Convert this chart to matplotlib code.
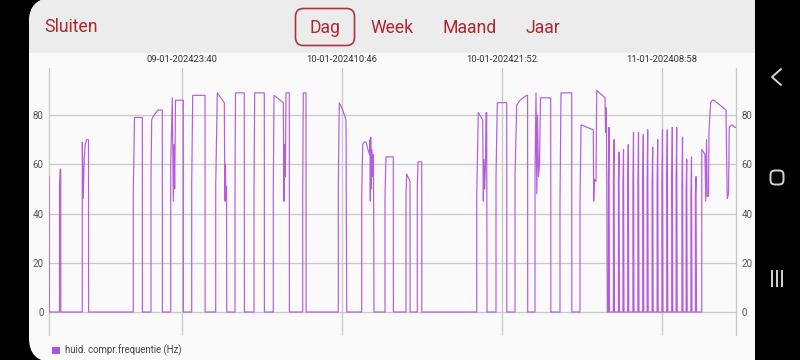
import matplotlib
matplotlib.use("Agg")
import matplotlib.pyplot as plt
from matplotlib.patches import FancyBboxPatch, Rectangle, Patch
import pandas as pd

# ---------------- data ----------------
window_start = pd.Timestamp("2024-01-09 14:26")
window_minutes = 2859.6
tick_times = ["2024-01-09 23:40", "2024-01-10 10:46", "2024-01-10 21:52", "2024-01-11 08:58"]
y_ticks = [0, 20, 40, 60, 80]
series_label = "huid. compr.frequentie (Hz)"
menu_items = ["Dag", "Week", "Maand", "Jaar"]

# minutes since window start
times_min = [
    0, 1.2,
    43.7, 43.7, 46.6, 48.7, 49.1,
    138.6, 138.6, 142.4, 146.5, 150.7, 156.9, 164.4, 164.8,
    350.9, 350.9, 353.8, 355.9, 388.4, 388.8,
    424.6, 424.6, 427.5, 430.8, 445.4, 453.7, 471.6, 472.0,
    506.6, 506.6, 513.2, 517.4, 520.3, 523.2, 526.6, 559.0, 559.4,
    594.0, 594.0, 598.2, 649.4, 649.8,
    693.9, 693.9, 700.5, 729.7, 730.9, 732.6, 734.3, 735.9, 739.3, 739.7,
    774.2, 774.2, 776.3, 812.9, 813.4,
    853.3, 853.3, 856.2, 896.2, 896.6,
    933.6, 933.6, 936.6, 975.3, 976.9, 978.2, 980.3, 982.4, 984.4, 986.5, 1000.2, 1000.7,
    1056.0, 1056.0, 1058.5, 1069.8, 1070.2,
    1204.2, 1204.2, 1208.4, 1222.5, 1236.3, 1239.2,
    1301.6, 1301.6, 1305.8, 1311.2, 1319.5, 1327.8, 1334.1, 1336.2, 1337.4, 1339.1,
    1341.2, 1343.2, 1345.7, 1348.6, 1350.7, 1352.8,
    1398.6, 1398.6, 1402.8, 1433.2, 1433.6,
    1486.0, 1486.0, 1488.9, 1502.7, 1503.1,
    1533.0, 1533.0, 1536.0, 1551.4, 1551.8,
    1780.3, 1780.3, 1786.9, 1805.3, 1807.8, 1810.7, 1813.6, 1816.9, 1819.0, 1821.9, 1823.2,
    1860.6, 1860.6, 1866.1, 1905.2, 1905.6,
    1939.7, 1939.7, 1946.8, 1960.5, 1988.4, 1992.2, 1992.6,
    2023.0, 2023.0, 2027.1, 2030.5, 2033.4, 2037.6, 2041.7, 2045.9, 2088.3, 2088.7,
    2127.0, 2127.0, 2131.2, 2175.7, 2176.2,
    2210.3, 2210.3, 2214.5, 2265.6, 2267.3, 2269.8, 2276.9, 2279.8, 2314.4, 2316.5,
    2318.5, 2320.6, 2324.0,
    2328.5, 2328.5, 2331.0, 2333.0,
    2349.3, 2349.3, 2351.8, 2353.8,
    2370.1, 2370.1, 2372.6, 2374.6,
    2388.9, 2388.9, 2391.4, 2393.4,
    2408.8, 2408.8, 2411.3, 2413.3,
    2430.5, 2430.5, 2433.0, 2435.0,
    2451.3, 2451.3, 2453.8, 2455.8,
    2471.3, 2471.3, 2473.8, 2475.8,
    2489.6, 2489.6, 2492.1, 2494.1,
    2510.4, 2510.4, 2512.9, 2514.9,
    2531.2, 2531.2, 2533.7, 2535.7,
    2551.2, 2551.2, 2553.7, 2555.7,
    2571.2, 2571.2, 2573.7, 2575.7,
    2592.0, 2592.0, 2594.5, 2596.5,
    2610.3, 2610.3, 2612.8, 2614.8,
    2634.5, 2634.5, 2637.0, 2639.0,
    2651.9, 2651.9, 2654.4, 2656.4,
    2671.9, 2671.9, 2674.4, 2676.4,
    2690.6, 2690.6, 2693.1, 2695.1,
    2717.1, 2717.1, 2730.6, 2733.6, 2736.9, 2739.8, 2745.2, 2747.3, 2754.3, 2761.0,
    2768.1, 2818.0, 2820.1, 2823.4, 2828.4, 2831.7, 2841.7, 2855.5, 2859.6,
]

freq_hz = [
    55, 0,
    0, 51, 58, 58, 0,
    0, 69, 46, 62, 68, 70, 70, 0,
    0, 50, 65, 79, 79, 0,
    0, 55, 78, 79, 81, 82, 82, 0,
    0, 60, 87, 45, 68, 50, 86, 86, 0,
    0, 52, 88, 88, 0,
    0, 51, 89, 85, 65, 45, 60, 51, 51, 0,
    0, 50, 89, 89, 0,
    0, 50, 89, 89, 0,
    0, 50, 88, 85, 65, 45, 68, 55, 60, 89, 89, 0,
    0, 50, 89, 89, 0,
    0, 52, 85, 82, 78, 0,
    0, 47, 68, 69, 69, 66, 64, 70, 45, 71,
    50, 66, 55, 64, 60, 0,
    0, 47, 63, 63, 0,
    0, 48, 56, 53, 0,
    0, 50, 61, 61, 0,
    0, 47, 81, 78, 45, 62, 50, 60, 81, 81, 0,
    0, 55, 85, 85, 0,
    0, 55, 84, 86, 88, 88, 0,
    0, 55, 89, 48, 80, 55, 60, 87, 87, 0,
    0, 45, 89, 89, 0,
    0, 45, 76, 74, 45, 54, 53, 90, 87, 73,
    83, 72, 0,
    0, 53, 75, 0,
    0, 52, 70, 0,
    0, 53, 65, 0,
    0, 52, 66, 0,
    0, 53, 68, 0,
    0, 53, 73, 0,
    0, 52, 73, 0,
    0, 54, 72, 0,
    0, 53, 74, 0,
    0, 52, 67, 0,
    0, 53, 70, 0,
    0, 53, 74, 0,
    0, 54, 74, 0,
    0, 53, 75, 0,
    0, 53, 75, 0,
    0, 52, 71, 0,
    0, 48, 62, 0,
    0, 48, 63, 0,
    0, 47, 55, 0,
    0, 66, 64, 45, 70, 47, 47, 74, 85, 86,
    86, 82, 65, 46, 48, 75, 76, 75, 75,
]

# ---------------- figure ----------------
W, H = 800, 360
fig = plt.figure(figsize=(8, 3.6), dpi=100, facecolor="black")

bg = fig.add_axes([0, 0, 1, 1])
bg.set_xlim(0, W)
bg.set_ylim(H, 0)
bg.axis("off")

app = FancyBboxPatch((29, -2), 800, 364, boxstyle="round,pad=0,rounding_size=24",
                     facecolor="#fafafa", edgecolor="none")
bg.add_patch(app)
header = Rectangle((29, -2), 760, 55, facecolor="#ececec", edgecolor="none")
bg.add_patch(header)
header.set_clip_path(app)
bg.add_patch(Rectangle((755, -5), 50, 370, facecolor="black", edgecolor="none"))

red = "#b0262e"
hfont = "Roboto"
bg.text(44, 27, "Sluiten", color=red, fontsize=12.7, family=hfont, ha="left", va="center")
menu_x = [325, 392, 470, 543]
for lab, xc in zip(menu_items, menu_x):
    bg.text(xc, 28, lab, color=red, fontsize=12.7, family=hfont, ha="center", va="center")
bg.add_patch(FancyBboxPatch((295.5, 8.5), 59, 37, boxstyle="round,pad=0,rounding_size=8",
                            facecolor="none", edgecolor="#a9363c", lw=1.2))

# navigation bar icons
nav = "#d4d4d4"
bg.plot([781, 772, 781], [69, 77, 85], color=nav, lw=1.4, solid_capstyle="round")
bg.add_patch(FancyBboxPatch((770.5, 170.5), 13, 14, boxstyle="round,pad=0,rounding_size=4.5",
                            facecolor="none", edgecolor=nav, lw=1.4))
for xi in (772, 777, 782):
    bg.plot([xi, xi], [271, 286], color=nav, lw=1.4)

# ---------------- chart ----------------
left, right, top, bottom = 49, 736, 68, 335
ax = fig.add_axes([left / W, 1 - bottom / H, (right - left) / W, (bottom - top) / H])
ax.patch.set_alpha(0)

ax.plot(times_min, freq_hz, color="#b65ddb", lw=0.85, label=series_label, zorder=3)

ax.set_xlim(0, window_minutes)
ax.set_ylim(-9.34, 99.1)

tick_pos = [(pd.Timestamp(t) - window_start).total_seconds() / 60 for t in tick_times]
tick_lab = [pd.Timestamp(t).strftime("%d-%m-%Y%H:%M") for t in tick_times]
ax.set_xticks(tick_pos)
ax.set_xticklabels(tick_lab)
ax.xaxis.tick_top()
ax.tick_params(axis="x", length=0, pad=3.0, labelsize=6.8, labelcolor="#333333")
ax.set_yticks(y_ticks)
ax.tick_params(axis="y", length=0, labelsize=7, labelcolor="#555555",
               left=True, right=True, labelleft=True, labelright=True)
ax.tick_params(axis="y", which="major", pad=4)
for lbl in ax.get_xticklabels() + ax.get_yticklabels():
    lbl.set_family("Roboto")

ax.grid(True, color="#c8c8c8", lw=0.9, zorder=0)
for s in ("top", "bottom"):
    ax.spines[s].set_visible(False)
for s in ("left", "right"):
    ax.spines[s].set_color("#c8c8c8")
    ax.spines[s].set_linewidth(0.9)

fig.legend(handles=[Patch(facecolor="#b44fe0", edgecolor="none", label=series_label)],
           loc="center left", bbox_to_anchor=(52 / W, 1 - 350.5 / H), frameon=False,
           handlelength=0.8, handleheight=0.8, handletextpad=0.55, borderpad=0,
           borderaxespad=0, prop={"family": "Roboto", "size": 6.9}, labelcolor="#444444")

fig.savefig("out.png", dpi=100, facecolor="black")
